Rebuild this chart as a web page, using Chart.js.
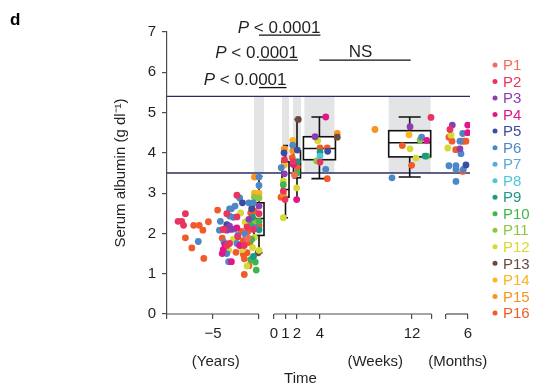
<!DOCTYPE html>
<html>
<head>
<meta charset="utf-8">
<script src="https://cdn.jsdelivr.net/npm/chart.js@4.4.1/dist/chart.umd.min.js"></script>
<style>
  html, body { margin: 0; padding: 0; background: #fff; }
  #wrap { width: 537px; height: 384px; }
</style>
</head>
<body>
<div id="wrap"><canvas id="albuminChart" width="537" height="384"></canvas></div>
<script>
// patients
const patients = ['P1', 'P2', 'P3', 'P4', 'P5', 'P6', 'P7', 'P8', 'P9', 'P10', 'P11', 'P12', 'P13', 'P14', 'P15', 'P16'];

// history before treatment (years), value, patient number
const histYears = [-8.8, -8.4, -8.2, -8.0, -8.0, -7.1, -6.5, -6.1, -5.5, -6.6,
  -7.3, -6.0, -4.5, -4.2, -4.3, -3.8, -3.5, -3.2, -3.0, -2.4,
  -2.1, -1.8, -2.6, -2.0, -3.2, -2.8, -2.4, -3.5, -3.2, -3.0,
  -2.6, -2.4, -3.9, -3.5, -4.0, -3.8, -3.7, -3.5, -3.9, -3.2,
  -4.0, -3.5, -3.3, -3.3, -3.0, -2.8, -2.5, -2.4, -2.3, -2.1,
  -2.3, -1.9, -1.7, -1.6, -1.8, -1.7, -1.3, -1.6, -1.6, -1.3,
  -1.1, -0.9, -1.5, -1.2, -1.0, -1.3, -1.2, -0.9, -0.9, -1.1,
  -1.5, -1.1, -0.6, -0.8, -0.7, -0.6, -0.8, -0.7, -0.6, -0.4,
  -0.3, -0.5, 0, 0, -0.5, 0, -0.5, 0, 0, -0.5,
  0, 0, -0.5, 0, 0, -0.5, -0.5, 0, -0.1];
const histValues = [2.30, 2.30, 2.20, 2.49, 1.89, 2.20, 2.20, 2.08, 2.29, 1.80,
  1.64, 1.38, 2.58, 2.30, 2.08, 2.10, 2.49, 2.61, 2.61, 2.95,
  2.88, 2.76, 2.68, 2.51, 2.43, 2.40, 2.41, 2.22, 2.18, 2.10,
  2.11, 2.14, 2.10, 2.08, 1.88, 1.78, 1.72, 1.70, 1.60, 1.75,
  1.50, 1.50, 1.58, 1.30, 1.30, 1.85, 1.53, 1.75, 1.92, 1.70,
  1.95, 2.05, 1.82, 1.70, 1.60, 1.48, 1.52, 1.37, 0.98, 1.19,
  1.20, 1.35, 1.98, 1.88, 1.77, 2.16, 2.05, 2.20, 2.51, 2.35,
  2.28, 2.76, 2.76, 2.61, 2.40, 2.10, 1.85, 1.65, 1.43, 1.29,
  1.09, 3.40, 3.40, 3.19, 3.00, 3.00, 2.90, 2.88, 2.68, 2.55,
  2.49, 2.30, 2.30, 2.20, 2.09, 2.15, 1.90, 1.58, 1.52];
const histPatient = [2, 2, 2, 2, 16, 16, 16, 16, 16, 6,
  16, 16, 16, 6, 6, 2, 2, 6, 6, 2,
  6, 5, 6, 12, 6, 6, 2, 5, 3, 3,
  6, 4, 2, 3, 16, 6, 4, 2, 4, 2,
  4, 6, 12, 6, 4, 12, 16, 6, 2, 4,
  6, 16, 16, 2, 12, 16, 16, 16, 16, 12,
  16, 10, 6, 1, 16, 2, 16, 10, 16, 3,
  12, 6, 6, 5, 9, 2, 10, 12, 9, 10,
  10, 15, 6, 6, 14, 14, 11, 11, 3, 16,
  2, 10, 11, 16, 9, 6, 12, 12, 13];

// after treatment, weeks 1, 2, 4 and 12
const weekTimes = [0.9, 0.87, 0.91, 0.63, 0.9, 0.9, 0.81, 0.81, 0.81, 0.84, 0.61, 0.96, 0.81,
  2.11, 1.63, 1.63, 2.03, 1.63, 1.59, 1.68, 1.68, 2.03, 2.03, 2.0, 1.78, 1.97, 1.97,
  4.5, 5.5, 5.5, 3.57, 3.8, 4.0, 4.63, 4.0, 4.67, 4.0, 3.71, 4.0, 4.5, 4.63,
  8.78, 13.65, 11.83, 11.74, 12.84, 13.28, 12.7, 11.16, 11.83, 13.28, 13.13, 12.35, 11.97, 10.26];
const weekValues = [4.10, 4.00, 3.83, 3.63, 3.70, 3.48, 3.30, 3.21, 3.05, 2.95, 2.90, 2.84, 2.39,
  4.83, 4.31, 4.19, 4.07, 4.05, 3.88, 3.78, 3.71, 3.78, 3.65, 3.50, 3.45, 3.13, 2.84,
  4.89, 4.48, 4.39, 4.40, 4.30, 4.12, 4.12, 4.02, 4.04, 3.92, 3.80, 3.77, 3.59, 3.36,
  4.58, 4.88, 4.65, 4.45, 4.39, 4.31, 4.32, 4.18, 4.10, 3.92, 3.92, 3.87, 3.69, 3.38];
const weekPatient = [15, 5, 2, 6, 14, 3, 12, 10, 2, 15, 16, 2, 12,
  13, 14, 6, 5, 15, 16, 2, 4, 9, 16, 10, 1, 12, 4,
  4, 15, 13, 3, 12, 16, 16, 9, 5, 8, 11, 2, 6, 16,
  15, 2, 3, 14, 6, 4, 11, 16, 12, 10, 9, 12, 16, 6];

// 6 months
const monthTimes = [4.93, 5.98, 4.77, 5.98, 5.64, 4.84, 4.70, 4.91, 5.45, 5.59, 5.73, 5.86,
  4.62, 5.16, 5.45, 5.52, 4.70, 5.18, 5.86, 5.18, 5.68, 5.64, 5.18];
const monthValues = [4.69, 4.69, 4.58, 4.50, 4.48, 4.44, 4.39, 4.29, 4.29, 4.29, 4.29, 4.29,
  4.12, 4.08, 4.10, 3.98, 3.68, 3.68, 3.70, 3.59, 3.59, 3.54, 3.29];
const monthPatient = [3, 4, 2, 4, 6, 12, 16, 16, 6, 16, 16, 16,
  12, 16, 3, 6, 6, 6, 5, 6, 6, 16, 6];

// box plots: baseline (year 0), week 1, 2, 4, 12
const boxSegment = [0, 1, 1, 1, 1];
const boxTime = [0, 1, 2, 3.95, 11.8];
const boxMin = [1.52, 2.39, 2.84, 3.36, 3.40];
const boxQ1 = [1.95, 2.90, 3.38, 3.83, 3.90];
const boxMedian = [2.37, 3.09, 3.70, 4.11, 4.25];
const boxQ3 = [2.76, 3.78, 4.05, 4.40, 4.55];
const boxMax = [3.42, 4.18, 4.83, 4.89, 4.89];

// reference range (g/dl)
const normalRange = [3.5, 5.4];

// comparisons between boxes
const sigFrom = [0, 0, 0, 3];
const sigTo = [3, 2, 1, 4];
const sigText = ['P < 0.0001', 'P < 0.0001', 'P < 0.0001', 'NS'];

// axis ticks per segment: 0 = years, 1 = weeks, 2 = months
const yearTicks = [-10, -5, 0];
const yearLabels = ['', '\u22125', ''];
const weekTicks = [0, 1, 2, 4, 12, 13.7];
const weekLabels = ['0', '1', '2', '4', '12', ''];
const monthTicks = [4.5, 6];
const monthLabels = ['', '6'];
const unitNames = ['(Years)', '(Weeks)', '(Months)'];

const patientColors = ['#f26b5b', '#e8345f', '#8b3fae', '#e0168a', '#3c4da0', '#4c88c8', '#59a9dd', '#4fc6d6',
  '#1b9985', '#3fb64a', '#8fc641', '#d4da33', '#6a4a3c', '#fbb51f', '#f7931e', '#f15a29'];

// layout of the broken x axis (axis units ~ pixels)
const segs = [
  { u0: 0, t0: -10, t1: 0, k: 9.2 },
  { u0: 107, t0: 0, t1: 13.7, k: 11.5 },
  { u0: 279, t0: 4.5, t1: 6, k: 14.67 }
];
function toU(s, t) { return segs[s].u0 + (t - segs[s].t0) * segs[s].k; }

const boxWidth = [10, 7, 7, 32, 42];
const capWidth = [7, 5, 5, 16, 22];
const bandWidth = [10, 7, 8, 30, 42];
const sigLevel = [6.92, 6.30, 5.62, 6.30];
const unitAnchor = [[0, -4.7], [1, 8.8], [2, 5.3]];

const xTickValues = [];
const xTickLabels = [];
[[yearTicks, yearLabels], [weekTicks, weekLabels], [monthTicks, monthLabels]].forEach(([ts, ls], s) => {
  ts.forEach((t, i) => { xTickValues.push(toU(s, t)); xTickLabels.push(ls[i]); });
});

const datasets = patients.map((name, i) => {
  const n = i + 1;
  const pts = [];
  histYears.forEach((t, j) => { if (histPatient[j] === n) pts.push({ x: toU(0, t), y: histValues[j] }); });
  weekTimes.forEach((t, j) => { if (weekPatient[j] === n) pts.push({ x: toU(1, t), y: weekValues[j] }); });
  monthTimes.forEach((t, j) => { if (monthPatient[j] === n) pts.push({ x: toU(2, t), y: monthValues[j] }); });
  return {
    label: name,
    data: pts,
    backgroundColor: patientColors[i],
    borderWidth: 0,
    pointRadius: 3.4,
    pointHoverRadius: 3.4
  };
});

const textColor = '#231f20';
const fontFam = "'Liberation Sans', Arial, Helvetica, sans-serif";
Chart.defaults.font.family = fontFam;

const albuminDecor = {
  id: 'albuminDecor',
  beforeDatasetsDraw(chart) {
    const { ctx, chartArea, scales: { x, y } } = chart;
    ctx.save();
    // grey reference bands
    ctx.fillStyle = '#e3e4e6';
    const bTop = y.getPixelForValue(normalRange[1]);
    const bBot = y.getPixelForValue(normalRange[0]);
    boxTime.forEach((t, i) => {
      const cx = x.getPixelForValue(toU(boxSegment[i], t));
      ctx.fillRect(cx - bandWidth[i] / 2, bTop, bandWidth[i], bBot - bTop);
    });
    // reference lines
    ctx.strokeStyle = '#2f2b62';
    ctx.lineWidth = 1.3;
    normalRange.forEach(v => {
      const py = y.getPixelForValue(v);
      ctx.beginPath();
      ctx.moveTo(chartArea.left, py);
      ctx.lineTo(chartArea.right, py);
      ctx.stroke();
    });
    // box plots
    ctx.strokeStyle = '#111';
    ctx.lineWidth = 1.6;
    boxTime.forEach((t, i) => {
      const cx = x.getPixelForValue(toU(boxSegment[i], t));
      const hw = boxWidth[i] / 2, hc = capWidth[i] / 2;
      const pMin = y.getPixelForValue(boxMin[i]);
      const pQ1 = y.getPixelForValue(boxQ1[i]);
      const pMed = y.getPixelForValue(boxMedian[i]);
      const pQ3 = y.getPixelForValue(boxQ3[i]);
      const pMax = y.getPixelForValue(boxMax[i]);
      ctx.fillStyle = '#fff';
      ctx.fillRect(cx - hw, pQ3, hw * 2, pQ1 - pQ3);
      ctx.beginPath();
      ctx.moveTo(cx, pMax); ctx.lineTo(cx, pQ3);
      ctx.moveTo(cx, pQ1); ctx.lineTo(cx, pMin);
      ctx.moveTo(cx - hc, pMax); ctx.lineTo(cx + hc, pMax);
      ctx.moveTo(cx - hc, pMin); ctx.lineTo(cx + hc, pMin);
      ctx.moveTo(cx - hw, pMed); ctx.lineTo(cx + hw, pMed);
      ctx.stroke();
      ctx.strokeRect(cx - hw, pQ3, hw * 2, pQ1 - pQ3);
    });
    ctx.restore();
  },
  afterDatasetsDraw(chart) {
    const { ctx, chartArea, scales: { x, y } } = chart;
    ctx.save();
    // broken x axis
    ctx.strokeStyle = '#4d4d4d';
    ctx.lineWidth = 1.2;
    const ay = chartArea.bottom;
    segs.forEach((s, i) => {
      ctx.beginPath();
      ctx.moveTo(x.getPixelForValue(toU(i, s.t0)), ay);
      ctx.lineTo(x.getPixelForValue(toU(i, s.t1)), ay);
      ctx.stroke();
    });
    // unit labels and axis title
    ctx.fillStyle = textColor;
    ctx.font = '15px ' + fontFam;
    ctx.textAlign = 'center';
    ctx.textBaseline = 'alphabetic';
    unitNames.forEach((txt, i) => {
      ctx.fillText(txt, x.getPixelForValue(toU(unitAnchor[i][0], unitAnchor[i][1])), 366);
    });
    ctx.fillText('Time', x.getPixelForValue(toU(1, 2.3)), 383);
    // significance brackets
    ctx.strokeStyle = '#111';
    ctx.lineWidth = 1.3;
    sigText.forEach((txt, i) => {
      const x0 = x.getPixelForValue(toU(boxSegment[sigFrom[i]], boxTime[sigFrom[i]]));
      const x1 = x.getPixelForValue(toU(boxSegment[sigTo[i]], boxTime[sigTo[i]]));
      const py = y.getPixelForValue(sigLevel[i]);
      ctx.beginPath();
      ctx.moveTo(x0, py); ctx.lineTo(x1 + 1, py);
      ctx.stroke();
      ctx.fillStyle = textColor;
      if (txt.startsWith('P')) {
        const rest = txt.slice(1);
        ctx.font = '17px ' + fontFam;
        const wRest = ctx.measureText(rest).width;
        ctx.font = 'italic 17px ' + fontFam;
        const wP = ctx.measureText('P').width;
        ctx.textAlign = 'left';
        const start = x1 + 1 - wRest - wP;
        ctx.fillText('P', start, py - 2.5);
        ctx.font = '17px ' + fontFam;
        ctx.fillText(rest, start + wP, py - 2.5);
      } else {
        ctx.font = '17px ' + fontFam;
        ctx.textAlign = 'center';
        ctx.fillText(txt, (x0 + x1) / 2 - 4, py - 3.5);
      }
    });
    // legend
    ctx.font = '15px ' + fontFam;
    ctx.textAlign = 'left';
    ctx.textBaseline = 'middle';
    patients.forEach((name, i) => {
      const cy = 65 + i * 16.53;
      ctx.fillStyle = patientColors[i];
      ctx.beginPath();
      ctx.arc(495, cy, 2.5, 0, Math.PI * 2);
      ctx.fill();
      ctx.fillText(name, 503, cy + 1);
    });
    // panel letter
    ctx.fillStyle = '#000';
    ctx.font = 'bold 17px ' + fontFam;
    ctx.textBaseline = 'alphabetic';
    ctx.fillText('d', 10, 25);
    ctx.restore();
  }
};

new Chart(document.getElementById('albuminChart').getContext('2d'), {
  type: 'scatter',
  data: { datasets: datasets },
  options: {
    responsive: false,
    animation: false,
    layout: { padding: { top: 32, right: 67, bottom: 0, left: 0 } },
    plugins: {
      legend: { display: false },
      tooltip: { enabled: false }
    },
    scales: {
      x: {
        type: 'linear',
        min: 0,
        max: 303,
        border: { display: false },
        grid: { drawOnChartArea: false, drawTicks: true, tickLength: 5, color: '#4d4d4d', lineWidth: 1.2 },
        ticks: {
          autoSkip: false,
          maxRotation: 0,
          padding: 6,
          color: textColor,
          font: { size: 15 },
          callback: (v, i) => xTickLabels[i]
        },
        afterBuildTicks: scale => { scale.ticks = xTickValues.map(v => ({ value: v })); },
        afterFit: scale => { scale.height = 70; }
      },
      y: {
        min: 0,
        max: 7,
        border: { display: true, color: '#4d4d4d', width: 1.2 },
        grid: { drawOnChartArea: false, tickLength: 5, color: '#4d4d4d', lineWidth: 1.2 },
        ticks: { stepSize: 1, padding: 6, color: textColor, font: { size: 15 } },
        title: {
          display: true,
          text: 'Serum albumin (g dl\u207B\u00B9)',
          color: textColor,
          font: { size: 15 },
          padding: { top: 112, bottom: 0 }
        },
        afterFit: scale => { scale.width = 167; }
      }
    }
  },
  plugins: [albuminDecor]
});
</script>
</body>
</html>
